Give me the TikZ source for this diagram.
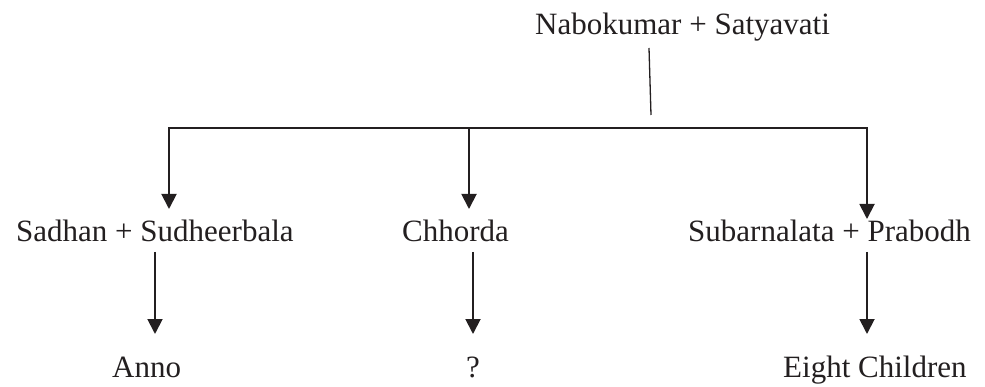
\documentclass[tikz,border=0pt]{standalone}
\usepackage{fontspec}
\setmainfont{Liberation Serif}
\usetikzlibrary{arrows.meta}
\definecolor{ink}{HTML}{231F20}
\begin{document}
\begin{tikzpicture}[x=1pt,y=-1pt,
  lbl/.style={font=\fontsize{31}{36}\selectfont, inner sep=0pt, anchor=base west, text=ink},
  conn/.style={draw=ink, line width=1.9pt, line join=miter},
  arr/.style={conn, -{Triangle[length=15pt,width=15pt]}},
  stem/.style={draw=ink, line width=1.3pt}]
\useasboundingbox (0,0) rectangle (985,387);
% texts
\node[lbl] (parents) at (535,35) {Nabokumar + Satyavati};
\node[lbl] (sadhan) at (16,242) {Sadhan + Sudheerbala};
\node[lbl] (chhorda) at (402,242) {Chhorda};
\node[lbl] (subarna) at (688,242) {Subarnalata + Prabodh};
\node[lbl] (anno) at (112,377) {Anno};
\node[lbl] (unknown) at (466,377) {?};
\node[lbl] (eight) at (783,377) {Eight Children};
% connector points
\coordinate (stemTop) at (649,48);
\coordinate (stemBot) at (651,115);
\coordinate (barL) at (169,128);
\coordinate (barM) at (469,128);
\coordinate (barR) at (867,128);
\coordinate (tipL) at (169,209);
\coordinate (tipM) at (469,209);
\coordinate (tipR) at (867,219);
\coordinate (lowL) at (155,252);
\coordinate (lowLt) at (155,334);
\coordinate (lowM) at (473,252);
\coordinate (lowMt) at (473,334);
\coordinate (lowR) at (867,252);
\coordinate (lowRt) at (867,334);
% connectors
\draw[stem] (stemTop) -- (stemBot);
\draw[arr] (barM) -- (barL) -- (tipL);
\draw[arr] (barM) -- (barR) -- (tipR);
\draw[arr] (barM) -- (tipM);
\draw[arr] (lowL) -- (lowLt);
\draw[arr] (lowM) -- (lowMt);
\draw[arr] (lowR) -- (lowRt);
\end{tikzpicture}
\end{document}
